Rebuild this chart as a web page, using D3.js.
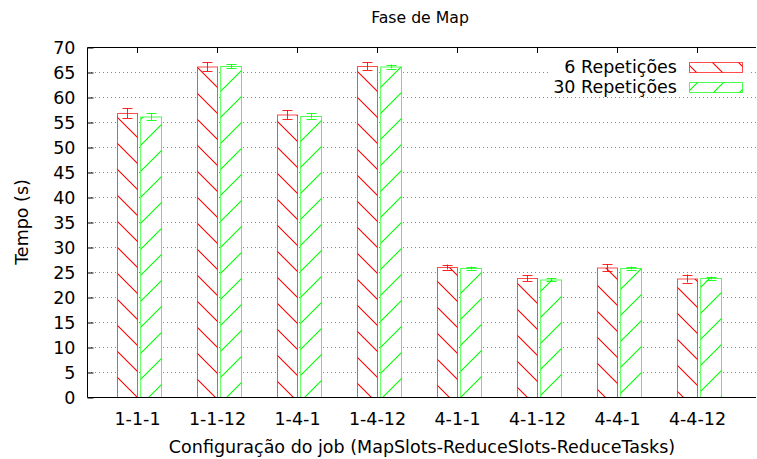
<!DOCTYPE html>
<html>
<head>
<meta charset="utf-8">
<script src="https://cdn.jsdelivr.net/npm/d3@7"></script>
<style>
  body { margin: 0; background: #fff; }
  svg { font-family: "DejaVu Sans", sans-serif; }
</style>
</head>
<body>
<svg id="chart" width="757" height="459"></svg>
<script>
// data
const configs = ['1-1-1', '1-1-12', '1-4-1', '1-4-12', '4-1-1', '4-1-12', '4-4-1', '4-4-12'];
const rep6 = [56.8, 66.1, 56.5, 66.2, 26.0, 23.8, 25.9, 23.7];
const rep6Err = [1.0, 0.9, 0.9, 0.8, 0.5, 0.6, 0.7, 0.8];
const rep30 = [56.1, 66.2, 56.2, 66.1, 25.8, 23.5, 25.8, 23.8];
const rep30Err = [0.7, 0.4, 0.5, 0.4, 0.3, 0.3, 0.3, 0.3];
const yTicks = d3.range(0, 71, 5);

const series = [
  {name: '6 Repetições', values: rep6, errs: rep6Err, color: '#ff0000', pat: 'hatchRed', off: [-0.25, 0]},
  {name: '30 Repetições', values: rep30, errs: rep30Err, color: '#00ff00', pat: 'hatchGreen', off: [0.04, 0.3]}
];

const svg = d3.select('#chart');
const pLeft = 87, pRight = 756, pTop = 47, pBottom = 397;
const fs = 17.5;

const x = d3.scaleLinear().domain([-0.625, 7.7375]).range([pLeft, pRight]);
const y = d3.scaleLinear().domain([0, 70]).range([pBottom, pTop]);

// hatch patterns
const defs = svg.append('defs');
function hatch(id, color, dir) {
  const p = defs.append('pattern').attr('id', id)
    .attr('patternUnits', 'userSpaceOnUse').attr('width', 26).attr('height', 26);
  p.append('rect').attr('width', 26).attr('height', 26).attr('fill', '#fff');
  const d = dir > 0 ? 'M0,26 L26,0 M-13,13 L13,-13 M13,39 L39,13' : 'M0,0 L26,26 M-13,13 L13,39 M13,-13 L39,13';
  p.append('path').attr('d', d).attr('stroke', color).attr('stroke-width', 1.1);
}
hatch('hatchRed', '#ff0000', -1);
hatch('hatchGreen', '#00ff00', 1);

// grid
svg.append('g').selectAll('line')
  .data(yTicks.filter(t => t > 0 && t < 70))
  .join('line')
  .attr('x1', pLeft).attr('x2', pRight)
  .attr('y1', d => y(d) + 0.5).attr('y2', d => y(d) + 0.5)
  .attr('stroke', '#888').attr('stroke-width', 1)
  .attr('stroke-dasharray', '1,3');

// bars
series.forEach(s => {
  const g = svg.append('g');
  g.selectAll('rect')
    .data(s.values)
    .join('rect')
    .attr('x', (d, i) => x(i + s.off[0]) + 0.5)
    .attr('width', x(s.off[1]) - x(s.off[0]))
    .attr('y', d => y(d) + 0.5)
    .attr('height', d => y(0) - y(d))
    .attr('fill', 'url(#' + s.pat + ')')
    .attr('stroke', s.color).attr('stroke-opacity', 0.7);

  const cx = i => Math.round(x(i + (s.off[0] + s.off[1]) / 2)) + 0.5;
  const eb = g.selectAll('g.err')
    .data(s.values)
    .join('g').attr('class', 'err')
    .attr('stroke', s.color).attr('stroke-opacity', 0.85);
  eb.append('line')
    .attr('x1', (d, i) => cx(i)).attr('x2', (d, i) => cx(i))
    .attr('y1', (d, i) => y(d - s.errs[i])).attr('y2', (d, i) => y(d + s.errs[i]));
  [-1, 1].forEach(sign => {
    eb.append('line')
      .attr('x1', (d, i) => cx(i) - 5).attr('x2', (d, i) => cx(i) + 5)
      .attr('y1', (d, i) => Math.round(y(d + sign * s.errs[i])) + 0.5)
      .attr('y2', (d, i) => Math.round(y(d + sign * s.errs[i])) + 0.5);
  });
});

// axes frame
svg.append('path')
  .attr('d', `M${pRight},${pTop + 0.5}H${pLeft + 0.5}V${pBottom + 0.5}H${pRight}`)
  .attr('fill', 'none').attr('stroke', '#000').attr('stroke-width', 1);

// y axis
const yAxis = svg.append('g').attr('transform', `translate(${pLeft + 0.5},0.5)`)
  .call(d3.axisLeft(y).tickValues(yTicks).tickSize(-6).tickPadding(12));
yAxis.select('.domain').remove();
yAxis.selectAll('text').attr('font-size', fs).attr('fill', '#000')
  .attr('font-family', '"DejaVu Sans", sans-serif');

// x ticks at top (mirror) and labels at bottom
svg.append('g').selectAll('line')
  .data(configs)
  .join('line')
  .attr('x1', (d, i) => Math.round(x(i)) + 0.5).attr('x2', (d, i) => Math.round(x(i)) + 0.5)
  .attr('y1', pTop).attr('y2', pTop + 6)
  .attr('stroke', '#000');
const xAxis = svg.append('g').attr('transform', `translate(0,${pBottom})`)
  .call(d3.axisBottom(x).tickValues(d3.range(configs.length)).tickFormat(i => configs[i]).tickSize(0).tickPadding(16));
xAxis.select('.domain').remove();
xAxis.selectAll('text').attr('font-size', fs).attr('fill', '#000')
  .attr('font-family', '"DejaVu Sans", sans-serif');

// legend
const legend = svg.append('g');
legend.append('rect').attr('x', 548).attr('y', 55).attr('width', 200).attr('height', 42).attr('fill', '#fff');
series.forEach((s, k) => {
  const ly = 67 + k * 20;
  legend.append('text').attr('x', 677).attr('y', ly).attr('dy', '0.35em')
    .attr('text-anchor', 'end').attr('font-size', fs).text(s.name);
  legend.append('rect').attr('x', 689.5).attr('y', ly - 4.5).attr('width', 53).attr('height', 10)
    .attr('fill', 'url(#' + s.pat + ')').attr('stroke', s.color).attr('stroke-opacity', 0.7);
});

// titles
svg.append('text').attr('x', 420).attr('y', 23).attr('text-anchor', 'middle')
  .attr('font-size', 15.7).text('Fase de Map');
svg.append('text').attr('x', 422).attr('y', 453).attr('text-anchor', 'middle')
  .attr('font-size', 17.5).text('Configuração do job (MapSlots-ReduceSlots-ReduceTasks)');
svg.append('text').attr('transform', 'translate(28,222) rotate(-90)').attr('text-anchor', 'middle')
  .attr('font-size', fs).text('Tempo (s)');
</script>
</body>
</html>
